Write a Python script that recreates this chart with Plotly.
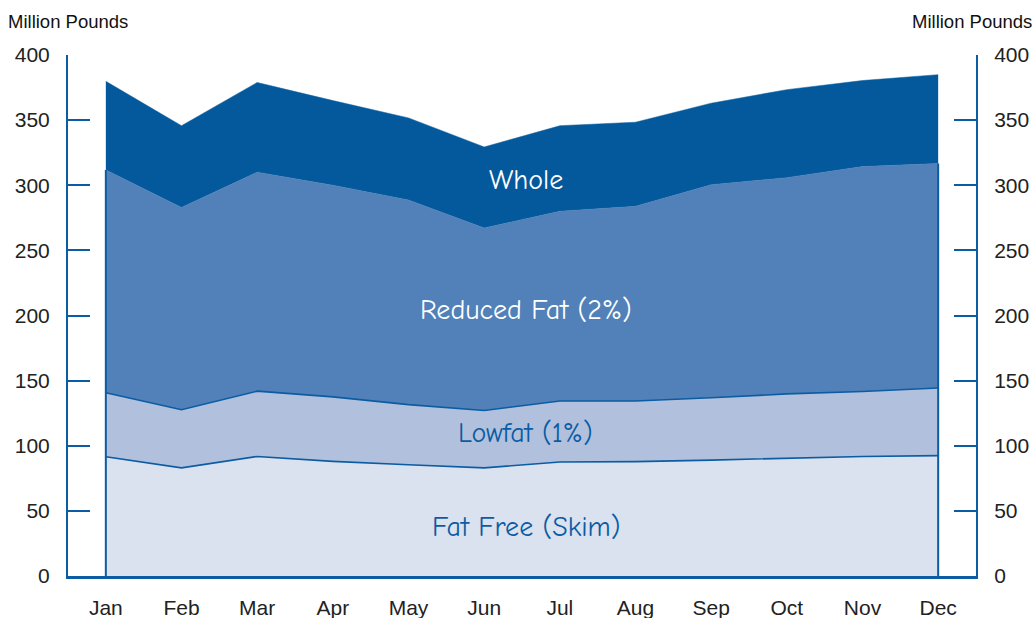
import plotly.graph_objects as go

months = ["Jan", "Feb", "Mar", "Apr", "May", "Jun", "Jul", "Aug", "Sep", "Oct", "Nov", "Dec"]
skim = [91.5, 83.0, 91.8, 88.0, 85.4, 83.0, 87.5, 87.8, 89.0, 90.6, 91.8, 92.4]
lowfat = [49.2, 44.7, 50.1, 49.5, 46.2, 44.1, 46.8, 46.5, 47.8, 49.2, 49.8, 51.9]
reduced = [171.1, 155.3, 168.1, 162.5, 157.0, 140.1, 145.7, 149.5, 163.6, 166.0, 172.7, 172.4]
whole = [68.0, 62.7, 68.9, 65.0, 63.1, 62.2, 65.7, 64.6, 62.6, 67.6, 66.1, 68.2]
y_ticks = [0, 50, 100, 150, 200, 250, 300, 350, 400]

AX = "#0B5CA3"
LINE = "#0B5CA3"
xi = list(range(len(months)))

fig = go.Figure()
series = [
    ("Fat Free (Skim)", skim, "#DAE1EF", LINE, 1.6),
    ("Lowfat (1%)", lowfat, "#B1C1DD", LINE, 1.6),
    ("Reduced Fat (2%)", reduced, "#5181B8", "#5181B8", 0.5),
    ("Whole", whole, "#03599C", "#03599C", 0.5),
]
for name, vals, fc, lc, lw in series:
    fig.add_trace(go.Scatter(
        x=xi, y=vals, name=name, stackgroup="one", mode="lines",
        fillcolor=fc, line=dict(color=lc, width=lw), hoverinfo="skip",
    ))

# vertical edges at the first and last month (from data)
cum_low = [a + b for a, b in zip(skim, lowfat)]
cum_red = [a + b for a, b in zip(cum_low, reduced)]
fig.add_trace(go.Scatter(x=[xi[0], xi[0]], y=[0, cum_red[0]], mode="lines",
                         line=dict(color=LINE, width=2), hoverinfo="skip"))
fig.add_trace(go.Scatter(x=[xi[-1], xi[-1]], y=[0, cum_red[-1]], mode="lines",
                         line=dict(color=LINE, width=2), hoverinfo="skip"))
# invisible trace for right axis
fig.add_trace(go.Scatter(x=[xi[0]], y=[0], yaxis="y2", mode="markers",
                         marker=dict(opacity=0), hoverinfo="skip"))

tickfont = dict(family="Liberation Sans, Arial, sans-serif", size=21, color="#222222")
fig.update_layout(
    width=1035, height=618,
    margin=dict(l=68, r=59, t=55, b=42, autoexpand=False),
    paper_bgcolor="white", plot_bgcolor="white",
    showlegend=False,
    xaxis=dict(
        range=[-0.5, 11.5], tickmode="array", tickvals=xi, ticktext=months,
        showgrid=False, zeroline=False, showline=True, linecolor=AX, linewidth=2.5,
        ticks="", tickfont=tickfont, ticklabelstandoff=11, automargin=False,
    ),
    yaxis=dict(
        range=[0, 400], tickmode="array", tickvals=y_ticks,
        showgrid=False, zeroline=False, showline=True, linecolor=AX, linewidth=2,
        ticks="inside", ticklen=22, tickwidth=2, tickcolor=AX,
        tickfont=tickfont, ticklabelstandoff=12, automargin=False,
    ),
    yaxis2=dict(
        range=[0, 400], tickmode="array", tickvals=y_ticks, overlaying="y", side="right",
        showgrid=False, zeroline=False, showline=True, linecolor=AX, linewidth=2,
        ticks="inside", ticklen=22, tickwidth=2, tickcolor=AX,
        tickfont=tickfont, ticklabelstandoff=12, automargin=False,
    ),
)

lab_font = "Comic Neue, Comic Sans MS, Noto Sans, sans-serif"
labels = [
    ("Whole", 304, "white"),
    ("Reduced Fat (2%)", 204, "white"),
    ("Lowfat (1%)", 110, "#0B5CA3"),
    ("Fat Free (Skim)", 38, "#0B5CA3"),
]
for text, yv, col in labels:
    fig.add_annotation(x=5.55, y=yv, text=text, showarrow=False,
                       font=dict(family=lab_font, size=28, color=col))

fig.add_annotation(xref="paper", yref="paper", x=-0.0683, y=1.0, yshift=34,
                   xanchor="left", yanchor="middle", text="Million Pounds",
                   showarrow=False, font=dict(family="Liberation Sans, Arial", size=18.5, color="#111111"))
fig.add_annotation(xref="paper", yref="paper", x=1.0635, y=1.0, yshift=34,
                   xanchor="right", yanchor="middle", text="Million Pounds",
                   showarrow=False, font=dict(family="Liberation Sans, Arial", size=18.5, color="#111111"))

fig.write_html("out.html", config={"displayModeBar": False},
               post_script="document.body.style.margin='0';")
